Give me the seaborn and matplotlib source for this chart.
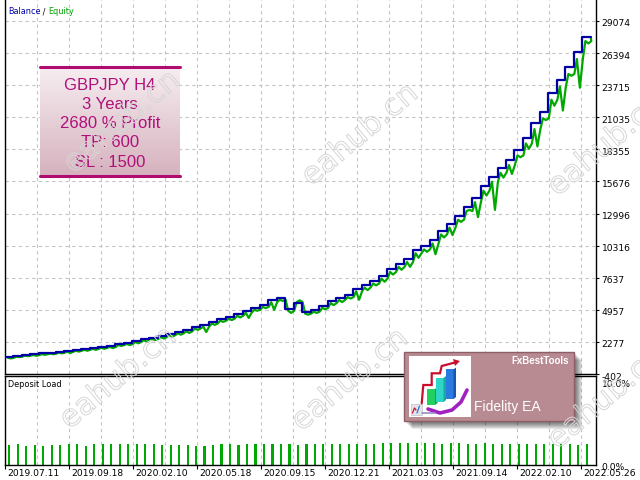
import numpy as np
import pandas as pd
import matplotlib
matplotlib.use("Agg")
import matplotlib.pyplot as plt
import matplotlib.patheffects as pe
from matplotlib.transforms import ScaledTranslation, blended_transform_factory
from matplotlib.patches import Rectangle, Polygon
from matplotlib.colors import LinearSegmentedColormap
import seaborn as sns

# ---------------- data ----------------
balance = [1000, 1108, 1192, 1234, 1317, 1359, 1442, 1526, 1609, 1693,
           1776, 1860, 1943, 2110, 2193, 2360, 2527, 2611, 2778, 2945,
           3112, 3279, 3529, 3696, 3947, 4197, 4364, 4614, 4865, 5115,
           5366, 5783, 5950, 5032, 5533, 4781, 4948, 5282, 5700, 5950,
           6200, 6701, 7035, 7369, 7787, 8371, 8788, 9206, 9957, 10291,
           10792, 11543, 12128, 12795, 13547, 14298, 15300, 16051, 16802, 17470,
           18305, 19307, 20559, 21477, 23063, 24149, 25234, 26486, 27738, 27738]

# equity level held after each trade (lags the balance slightly)
equity_level = [950, 1050, 1130, 1180, 1250, 1300, 1380, 1460, 1540, 1620,
                1700, 1790, 1860, 2020, 2110, 2270, 2430, 2520, 2680, 2840,
                3000, 3160, 3400, 3560, 3810, 4050, 4220, 4460, 4720, 4960,
                5200, 5600, 5800, 4880, 5600, 4640, 4800, 5120, 5520, 5780,
                6020, 6500, 6820, 7150, 7560, 8120, 8540, 8950, 9680, 10000,
                10500, 11250, 11820, 12480, 13200, 13950, 14900, 15650, 16400, 17050,
                17850, 18850, 20050, 20950, 22500, 23600, 24650, 25900, 27400, 27650]

# lowest (or highest) floating equity inside each trade interval
equity_swing = [900, 1010, 1090, 1120, 1200, 1250, 1320, 1350, 1470, 1540,
                1610, 1700, 1760, 1940, 2010, 2160, 2290, 2430, 2560, 2710,
                2880, 3030, 3280, 3100, 3700, 3950, 4100, 4320, 4280, 4880,
                5100, 4950, 5700, 4700, 5750, 4550, 4700, 5000, 5350, 5600,
                5900, 5800, 6600, 7000, 7300, 7900, 8300, 8550, 9300, 9800,
                9600, 11000, 11200, 12300, 13300, 12700, 14500, 13300, 16000, 16300,
                17700, 18400, 18600, 20800, 22000, 21600, 24500, 23500, 27200]

deposit_load = [2.40, 2.45, 2.30, 2.35, 2.30, 2.38, 2.38, 2.45, 2.45, 2.30,
                2.45, 2.45, 2.45, 2.45, 2.45, 2.45, 2.45, 2.45, 2.35, 2.35,
                2.35, 2.40, 2.30, 2.30, 2.35, 2.45, 2.45, 2.38, 2.45, 2.45,
                2.45, 2.45, 2.50, 2.45, 2.35, 2.50, 2.50, 2.50, 2.50, 2.50,
                2.50, 2.55, 2.55, 2.55, 2.60, 2.60, 2.60, 2.60, 2.60, 2.60,
                2.60, 2.50, 2.60, 2.60, 2.45, 2.45, 2.60, 2.50, 2.50, 2.50,
                2.45, 2.45, 2.45, 2.45, 2.45, 2.45, 2.45, 2.42, 2.45]

date_labels = ["2019.07.11", "2019.09.18", "2020.02.10", "2020.05.18", "2020.09.15",
               "2020.12.21", "2021.03.03", "2021.09.14", "2022.02.10", "2022.05.26"]
y_ticks = [-402, 2277, 4957, 7637, 10316, 12996, 15676, 18355, 21035, 23715, 26394, 29074]
load_ticks = [0, 10]
load_tick_labels = ["0.0%", "10.0%"]
info_lines = ["GBPJPY H4", "3 Years", "2680 % Profit", "TP: 600", "SL : 1500"]

# ---------------- style ----------------
sns.set_theme(style="white")
plt.rcParams['font.family'] = ['DejaVu Sans']

BLUE = '#0000A6'
GREEN = '#00A800'
GRID = '#C4C4C4'
W, H = 640, 480
fig = plt.figure(figsize=(6.4, 4.8), dpi=100)
fig.patch.set_facecolor('white')


def px_axes(x0, y0, x1, y1, **kw):
    return fig.add_axes([x0 / W, 1 - y1 / H, (x1 - x0) / W, (y1 - y0) / H], **kw)


ax = px_axes(5, 0, 596, 374)
ax2 = px_axes(5, 376, 596, 465)

x_max = 69.6
grid_step = x_max * 32 / 591
grid_pos = np.arange(1, 19) * grid_step
label_pos = np.arange(0, 10) * 2 * grid_step

# ---------------- main panel ----------------
df_bal = pd.DataFrame({"trade": np.arange(len(balance)), "value": balance})

# equity path: per trade -> level reached, swing inside the trade, back to level
eq_x, eq_v = [], []
for i, sw in enumerate(equity_swing):
    eq_x += [i + 0.35, i + 0.7, i + 1.05]
    eq_v += [equity_level[i], sw, equity_level[i]]
eq_x.append(len(equity_level) - 1)
eq_v.append(equity_level[-1])
df_eq = pd.DataFrame({"trade": eq_x, "value": eq_v})

sns.lineplot(data=df_eq, x="trade", y="value", ax=ax, color=GREEN, lw=1.6, zorder=3,
             sort=False, estimator=None)
sns.lineplot(data=df_bal, x="trade", y="value", ax=ax, color=BLUE, lw=1.6,
             drawstyle='steps-post', zorder=4)

ax.set_xlim(0, x_max)
ax.set_ylim(-402, 30827)
ax.set_xticks(grid_pos)
ax.set_yticks(y_ticks)
ax.set_yticklabels([str(v) for v in y_ticks])
ax.yaxis.tick_right()
ax.tick_params(axis='x', length=0, labelbottom=False)
ax.tick_params(axis='y', length=2, width=0.8, pad=2, labelsize=6.6, colors='black')
ax.grid(True, ls=(0, (3, 3)), color=GRID, lw=0.8)
ax.set_xlabel("")
ax.set_ylabel("")
for s in ['left', 'right', 'bottom']:
    ax.spines[s].set_color('black')
    ax.spines[s].set_linewidth(1.0)
ax.spines['top'].set_visible(False)
for lbl in ax.get_yticklabels():
    lbl.set_transform(lbl.get_transform() + ScaledTranslation(0, -0.02, fig.dpi_scale_trans))

# ---------------- deposit load panel ----------------
df_load = pd.DataFrame({"trade": np.arange(len(deposit_load)) + 0.5, "load": deposit_load})
sns.barplot(data=df_load, x="trade", y="load", ax=ax2, native_scale=True, width=0.25,
            color=GREEN, saturation=1, errorbar=None, linewidth=0)
ax2.set_xlim(0, x_max)
ax2.set_ylim(0, 10.6)
ax2.set_xticks(label_pos)
ax2.set_xticks(np.arange(1, 19, 2) * grid_step, minor=True)
ax2.tick_params(axis='x', which='major', length=3, width=0.8, labelbottom=False, bottom=True, colors='black')
ax2.tick_params(axis='x', which='minor', length=0, bottom=False)
ax2.grid(True, axis='x', which='both', ls=(0, (3, 3)), color=GRID, lw=0.8)
ax2.grid(False, axis='y')
ax2.set_yticks(load_ticks)
ax2.set_yticklabels(load_tick_labels)
ax2.yaxis.tick_right()
ax2.tick_params(axis='y', length=0, pad=4, labelsize=6.6, colors='black')
ax2.set_xlabel("")
ax2.set_ylabel("")
for s in ax2.spines.values():
    s.set_color('black')
    s.set_linewidth(1.0)
for lbl in ax2.get_yticklabels():
    lbl.set_transform(lbl.get_transform() + ScaledTranslation(0, -0.02, fig.dpi_scale_trans))

btrans = blended_transform_factory(ax2.transData, ax2.transAxes)
for pos, txt in zip(label_pos, date_labels):
    ax2.text(pos, 0, txt, transform=btrans + ScaledTranslation(0.02, -0.08, fig.dpi_scale_trans),
             ha='left', va='center', fontsize=6.6, color='black', clip_on=False)

ax2.text(0.005, 0.9, "Deposit Load", transform=ax2.transAxes, ha='left', va='center',
         fontsize=5.9, color='black')

# legend text "Balance / Equity"
t1 = fig.text(8 / W, 1 - 12 / H, "Balance", color=BLUE, fontsize=5.9, ha='left', va='center')
ann1 = ax.annotate(" / ", xy=(1, 0), xycoords=t1, ha='left', va='bottom', fontsize=5.9, color='black')
ax.annotate("Equity", xy=(1, 0), xycoords=ann1, ha='left', va='bottom', fontsize=5.9, color='#00A000')

# ---------------- info box ----------------
bx = px_axes(40, 67, 180, 176)
grad = np.linspace(0, 1, 100)[:, None]
cmap = LinearSegmentedColormap.from_list("pinkgrad", ['#F6EDF0', '#D6B2BE'])
bx.imshow(grad, aspect='auto', cmap=cmap, extent=[0, 1, 0, 1], origin='upper')
bx.plot([0, 1], [1, 1], color='#B00C70', lw=2.2, transform=bx.transAxes, clip_on=False)
bx.plot([0, 1], [0, 0], color='#B00C70', lw=2.2, transform=bx.transAxes, clip_on=False)
bx.set_xlim(0, 1)
bx.set_ylim(0, 1)
bx.axis('off')
for i, line in enumerate(info_lines):
    fig.text(110 / W, 1 - (85 + 19.3 * i) / H, line, ha='center', va='center',
             fontsize=12, color='#B0107A', family=['Liberation Sans'])

# ---------------- logo card ----------------
lg = px_axes(400, 345, 590, 435)
lg.set_xlim(400, 590)
lg.set_ylim(435, 345)
lg.axis('off')
for d in range(2, 9):
    lg.add_patch(Rectangle((404 + d, 352 + d), 170, 69, fc='black', ec='none', alpha=0.09))
lg.add_patch(Rectangle((404, 352), 170, 69, fc='#B88A92', ec='#8E5E68', lw=1))
lg.add_patch(Rectangle((409, 356), 62, 61, fc='white', ec='none'))
# stylised bar-chart icon
lg.add_patch(Polygon([(426.7, 389), (435, 389), (435, 405), (426.7, 405)], fc='#22D060', ec='none'))
lg.add_patch(Polygon([(435, 389), (437.5, 387), (437.5, 403), (435, 405)], fc='#15A048', ec='none'))
lg.add_patch(Polygon([(435.5, 378), (443.5, 378), (443.5, 402), (435.5, 402)], fc='#2ED6C8', ec='none'))
lg.add_patch(Polygon([(443.5, 378), (446, 376), (446, 400), (443.5, 402)], fc='#1AA8A0', ec='none'))
lg.add_patch(Polygon([(445.5, 369.5), (453.5, 369.5), (453.5, 399), (445.5, 399)], fc='#2A7BE0', ec='none'))
lg.add_patch(Polygon([(453.5, 369.5), (456, 367.5), (456, 397), (453.5, 399)], fc='#1A55B0', ec='none'))
lg.plot([421.7, 423.3, 431.7, 431.7, 440, 441.7, 455], [403.3, 385, 385, 373.3, 373.3, 366, 362.5],
        color='#C8102E', lw=1.6, solid_joinstyle='miter')
lg.add_patch(Polygon([(453, 359), (460, 361), (455, 366)], fc='#C8102E', ec='none'))
lg.plot([428, 440, 452, 461, 467], [409, 413, 410, 402, 390], color='#A020C0', lw=2.6,
        solid_capstyle='round')
lg.add_patch(Rectangle((410.5, 404), 11, 11, fc='#E4E4EC', ec='#C0C0C8', lw=0.5))
lg.plot([412.5, 414.5, 416], [413, 408, 410], color='#C8102E', lw=0.9)
lg.plot([417, 419.5], [413, 406], color='#2A7BE0', lw=0.9)
lg.plot([422, 435], [413, 413], color='#9A8CC8', lw=1.2)
lg.text(569, 361, "FxBestTools", ha='right', va='center', fontsize=7, fontweight='bold',
        color='white', family=['Liberation Sans'])
lg.text(507, 407, "Fidelity EA", ha='center', va='center', fontsize=10, color='white',
        family=['Liberation Sans'])

# ---------------- watermarks ----------------
for (wx, wy) in [(122, 122), (360, 135), (606, 145), (118, 378), (350, 380), (606, 398)]:
    fig.text(wx / W, 1 - wy / H, "eahub.cn", rotation=40, ha='center', va='center',
             fontsize=22, color=(1, 1, 1, 0), zorder=20,
             path_effects=[pe.Stroke(linewidth=0.7, foreground='#D6D6D6')])

fig.savefig("out.png", dpi=100)
